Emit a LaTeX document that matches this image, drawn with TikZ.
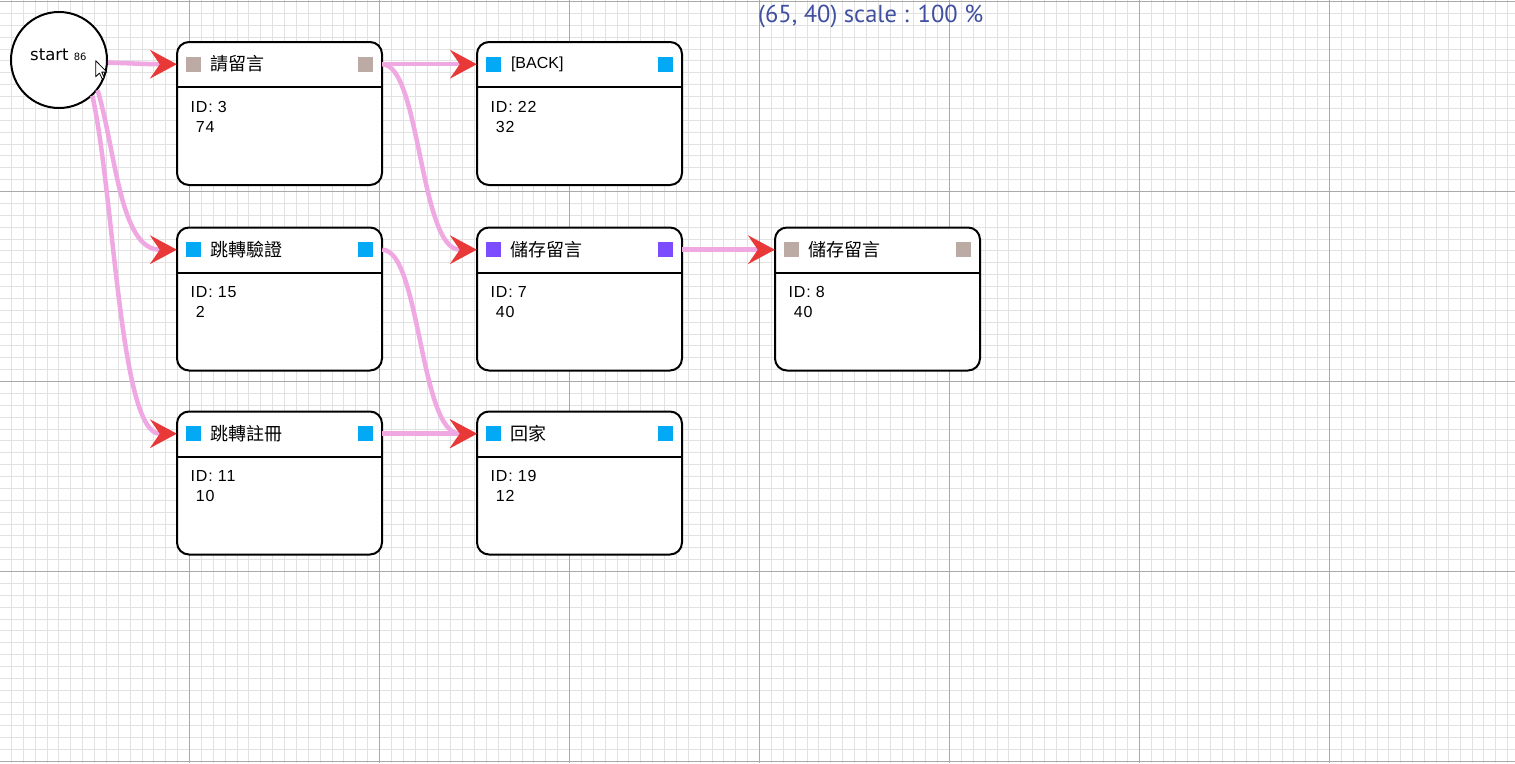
\documentclass[tikz,border=0pt]{standalone}
\usepackage{fontspec}
\setmainfont{Liberation Sans}
\newfontfamily\cjkfont{Noto Sans CJK TC}
\newfontfamily\startfont{DejaVu Sans}
\newfontfamily\zoomfont{PT Sans}
\usetikzlibrary{arrows.meta}

\definecolor{gridminor}{RGB}{226,226,226}
\definecolor{gridmajor}{RGB}{170,170,170}
\definecolor{linkpink}{RGB}{240,168,226}
\definecolor{tipred}{RGB}{232,56,56}
\definecolor{taupe}{RGB}{188,170,164}
\definecolor{skyblue}{RGB}{3,169,244}
\definecolor{violet}{RGB}{124,77,255}
\definecolor{zoomblue}{RGB}{64,80,160}

\newcommand\latinhead{\normalfont\fontsize{16}{16}\selectfont}

\tikzset{
  card/.style={draw, line width=2pt, rounded corners=12pt, fill=white,
    minimum width=205pt, minimum height=143pt, inner sep=0pt},
  headrow/.style={anchor=north, minimum width=205pt, minimum height=46pt, inner sep=0pt},
  chip/.style={fill=#1, minimum size=15pt, inner sep=0pt},
  headtext/.style={anchor=west, inner sep=0pt, font=\cjkfont\fontsize{18}{18}\selectfont},
  bodytext/.style={anchor=north west, inner sep=0pt, align=left,
    font=\fontsize{16}{20}\selectfont\addfontfeature{LetterSpace=5}},
  flow/.style={draw=linkpink, line width=4.5pt,
    -{Stealth[length=27pt, width=29pt, inset=10pt, color=tipred, line width=0pt]}},
}

\begin{document}
\begin{tikzpicture}[x=1pt, y=-1pt]

  \fill[white] (0,0) rectangle (1515,763);
  \useasboundingbox (0,0) rectangle (1515,763);

  % background grid
  \foreach \i in {0,...,128}
    \draw[gridminor, line width=1pt] ({-0.5+\i*11.875},0) -- ({-0.5+\i*11.875},763);
  \foreach \j in {0,...,64}
    \draw[gridminor, line width=1pt] (0,{1.5+\j*11.875}) -- (1515,{1.5+\j*11.875});
  \foreach \i in {0,...,8}
    \draw[gridmajor, line width=1pt] ({-0.5+\i*190},0) -- ({-0.5+\i*190},763);
  \foreach \j in {0,...,4}
    \draw[gridmajor, line width=1pt] (0,{1.5+\j*190}) -- (1515,{1.5+\j*190});

  \node[anchor=base west, inner sep=0pt, text=zoomblue,
    font=\zoomfont\fontsize{24.5}{24.5}\selectfont] (zoominfo) at (758,22) {(65, 40) scale : 100 \%};

  % start
  \node[circle, draw, line width=2pt, fill=white, minimum size=96pt, inner sep=0pt] (start) at (59,60) {};
  \node[anchor=base west, inner sep=0pt, font=\startfont\fontsize{16.5}{16.5}\selectfont]
    (startname) at (30,60) {start {\fontsize{10}{10}\selectfont 86}};

  % cards
  \begin{scope}[every node/.style={card}]
    \node (3)  at (279.5,113.5) {};
    \node (22) at (579.5,113.5) {};
    \node (15) at (279.5,299)   {};
    \node (7)  at (579.5,299)   {};
    \node (8)  at (877.5,299)   {};
    \node (11) at (279.5,483)   {};
    \node (19) at (579.5,483)   {};
  \end{scope}

  \begin{scope}[every node/.style={headrow}]
    \node (3h)  at (3.north)  {};
    \node (22h) at (22.north) {};
    \node (15h) at (15.north) {};
    \node (7h)  at (7.north)  {};
    \node (8h)  at (8.north)  {};
    \node (11h) at (11.north) {};
    \node (19h) at (19.north) {};
  \end{scope}

  \foreach \n/\col in {3/taupe, 22/skyblue, 15/skyblue, 7/violet, 8/taupe, 11/skyblue, 19/skyblue} {
    \draw[line width=2pt] (\n h.south west) -- (\n h.south east);
    \node[chip=\col] (\n l) at ([xshift=17pt]\n h.west) {};
    \node[chip=\col] (\n r) at ([xshift=-17pt]\n h.east) {};
  }

  \begin{scope}[every node/.style={headtext}]
    \node (3t)  at ([xshift=33.5pt]3h.west)  {請留言};
    \node (22t) at ([xshift=34pt]22h.west)   {\latinhead [BACK]};
    \node (15t) at ([xshift=33.5pt]15h.west) {跳轉驗證};
    \node (7t)  at ([xshift=33.5pt]7h.west)  {儲存留言};
    \node (8t)  at ([xshift=33.5pt]8h.west)  {儲存留言};
    \node (11t) at ([xshift=33.5pt]11h.west) {跳轉註冊};
    \node (19t) at ([xshift=33.5pt]19h.west) {回家};
  \end{scope}

  \begin{scope}[every node/.style={bodytext}]
    \node (3b)  at ([xshift=14.5pt,yshift=-60pt]3.north west)  {ID: 3\\\ 74};
    \node (22b) at ([xshift=14.5pt,yshift=-60pt]22.north west) {ID: 22\\\ 32};
    \node (15b) at ([xshift=14.5pt,yshift=-60pt]15.north west) {ID: 15\\\ 2};
    \node (7b)  at ([xshift=14.5pt,yshift=-60pt]7.north west)  {ID: 7\\\ 40};
    \node (8b)  at ([xshift=14.5pt,yshift=-60pt]8.north west)  {ID: 8\\\ 40};
    \node (11b) at ([xshift=14.5pt,yshift=-60pt]11.north west) {ID: 11\\\ 10};
    \node (19b) at ([xshift=14.5pt,yshift=-60pt]19.north west) {ID: 19\\\ 12};
  \end{scope}

  % links
  \draw[flow] (start.-3)  .. controls +(30,1) and +(-30,0) .. (3h.west);
  \draw[flow] (start.-38) .. controls +(18,60) and +(-57,0) .. (15h.west);
  \draw[flow] (start.-47) .. controls +(22,100) and +(-57,0) .. (11h.west);
  \draw[flow] (3h.east) -- (22h.west);
  \draw[flow] (3h.east) .. controls +(38,0) and +(-57,0) .. (7h.west);
  \draw[flow] (15h.east) .. controls +(38,0) and +(-57,0) .. (19h.west);
  \draw[flow] (11h.east) -- (19h.west);
  \draw[flow] (7h.east) -- (8h.west);

  % mouse pointer
  \draw[fill=white, line width=0.8pt, line join=round, shift={(95.7,60.7)}]
    (0,0) -- (0,16) -- (3.8,12.4) -- (6.4,18) -- (8.6,17) -- (6,11.4) -- (11.2,11.4) -- cycle;

\end{tikzpicture}
\end{document}
